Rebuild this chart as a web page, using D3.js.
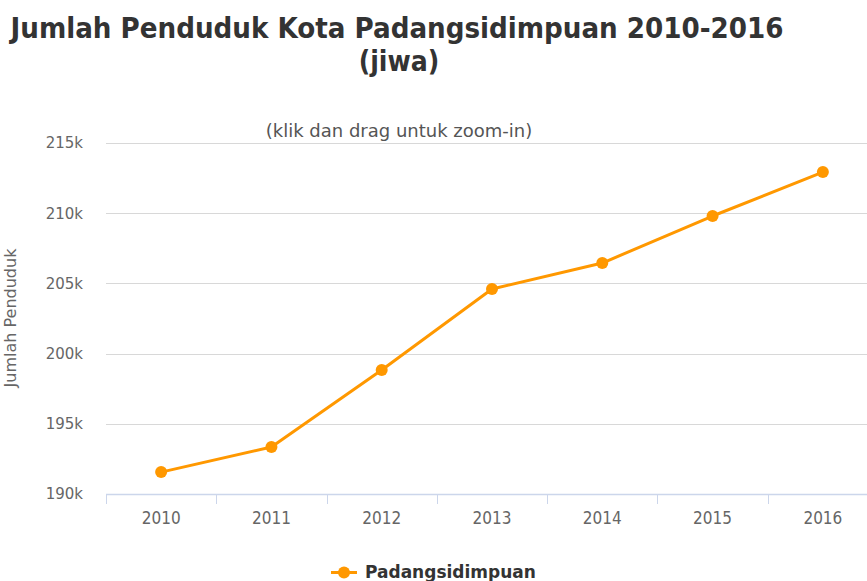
<!DOCTYPE html>
<html><head><meta charset="utf-8">
<script src="https://cdn.jsdelivr.net/npm/d3@7"></script>
<style>body{margin:0;background:#fff;overflow:hidden}svg{display:block}</style>
</head><body>
<svg id="c" width="867" height="581"></svg>
<script>
const years = ["2010","2011","2012","2013","2014","2015","2016"];
const population = [191560, 193350, 198830, 204600, 206450, 209800, 212930];
const yTicks = [190000, 195000, 200000, 205000, 210000, 215000];
const seriesName = "Padangsidimpuan";
const titleText = "Jumlah Penduduk Kota Padangsidimpuan 2010-2016";
const titleText2 = "(jiwa)";
const subtitleText = "(klik dan drag untuk zoom-in)";
const yTitle = "Jumlah Penduduk";

(function(){
const svg = d3.select("#c");
const pLeft = 106, pRight = 878, pTop = 143, pBottom = 494;
const color = "#ff9800";

const x = d3.scaleBand().domain(years).range([pLeft, pRight]);
const y = d3.scaleLinear().domain([190000, 215000]).range([pBottom, pTop]);

// gridlines
svg.append("g").selectAll("line").data(yTicks.slice(1)).join("line")
  .attr("x1", pLeft).attr("x2", pRight)
  .attr("y1", d => Math.round(y(d)) + 0.5).attr("y2", d => Math.round(y(d)) + 0.5)
  .attr("stroke", "#d8d8d8").attr("stroke-width", 1);

// y axis labels
const yAxis = d3.axisLeft(y).tickValues(yTicks).tickSize(0).tickPadding(0)
  .tickFormat(d => (d / 1000) + "k");
const gy = svg.append("g").attr("transform", `translate(${83},0)`).call(yAxis);
gy.select(".domain").remove();
gy.selectAll("text").attr("fill", "#666").attr("font-size", "15px")
  .attr("font-family", "'DejaVu Sans', sans-serif").attr("dy", "0.32em");

// x axis
const xAxis = d3.axisBottom(x).tickSize(0).tickPadding(0);
const gx = svg.append("g").attr("transform", `translate(0,${pBottom})`).call(xAxis);
gx.select(".domain").attr("stroke", "#ccd6eb").attr("stroke-width", 1.5).attr("d", `M${pLeft},0.5H${pRight}`);
gx.selectAll("text").attr("fill", "#666").attr("font-size", "17px")
  .attr("font-family", "'DejaVu Sans Condensed', 'DejaVu Sans', sans-serif").attr("dy", "0").attr("y", 30);
// boundary ticks
svg.append("g").selectAll("line").data(years.concat(["end"])).join("line")
  .attr("x1", (d, i) => Math.round(pLeft + i * x.step()) + 0.5)
  .attr("x2", (d, i) => Math.round(pLeft + i * x.step()) + 0.5)
  .attr("y1", pBottom).attr("y2", pBottom + 10)
  .attr("stroke", "#ccd6eb").attr("stroke-width", 1);

// line
const cx = d => x(d) + x.bandwidth() / 2;
svg.append("path").datum(years)
  .attr("d", d3.line().x(d => cx(d)).y((d, i) => y(population[i])))
  .attr("fill", "none").attr("stroke", color).attr("stroke-width", 3)
  .attr("stroke-linejoin", "round");
svg.append("g").selectAll("circle").data(years).join("circle")
  .attr("cx", d => cx(d)).attr("cy", (d, i) => y(population[i]))
  .attr("r", 6).attr("fill", color);

// titles
svg.append("text").attr("x", 397).attr("y", 38).attr("text-anchor", "middle")
  .attr("font-family", "'DejaVu Sans Condensed', 'DejaVu Sans', sans-serif")
  .attr("font-weight", "bold").attr("font-size", "28px").attr("fill", "#333")
  .attr("textLength", 773).attr("lengthAdjust", "spacingAndGlyphs")
  .text(titleText);
svg.append("text").attr("x", 399).attr("y", 71).attr("text-anchor", "middle")
  .attr("font-family", "'DejaVu Sans Condensed', 'DejaVu Sans', sans-serif")
  .attr("font-weight", "bold").attr("font-size", "28px").attr("fill", "#333")
  .text(titleText2);
svg.append("text").attr("x", 399).attr("y", 137).attr("text-anchor", "middle")
  .attr("font-family", "'DejaVu Sans', sans-serif")
  .attr("font-size", "18px").attr("fill", "#555")
  .text(subtitleText);

// y title
svg.append("text").attr("transform", `translate(16,${318}) rotate(-90)`)
  .attr("text-anchor", "middle")
  .attr("font-family", "'DejaVu Sans', sans-serif")
  .attr("font-size", "16px").attr("fill", "#666")
  .text(yTitle);

// legend
const lg = svg.append("g");
lg.append("line").attr("x1", 331).attr("x2", 357).attr("y1", 572.5).attr("y2", 572.5)
  .attr("stroke", color).attr("stroke-width", 3);
lg.append("circle").attr("cx", 344).attr("cy", 572.5).attr("r", 6).attr("fill", color);
lg.append("text").attr("x", 365).attr("y", 578)
  .attr("font-family", "'DejaVu Sans', sans-serif").attr("font-weight", "bold")
  .attr("font-size", "17px").attr("fill", "#333").text(seriesName);
})();
</script>
</body></html>
